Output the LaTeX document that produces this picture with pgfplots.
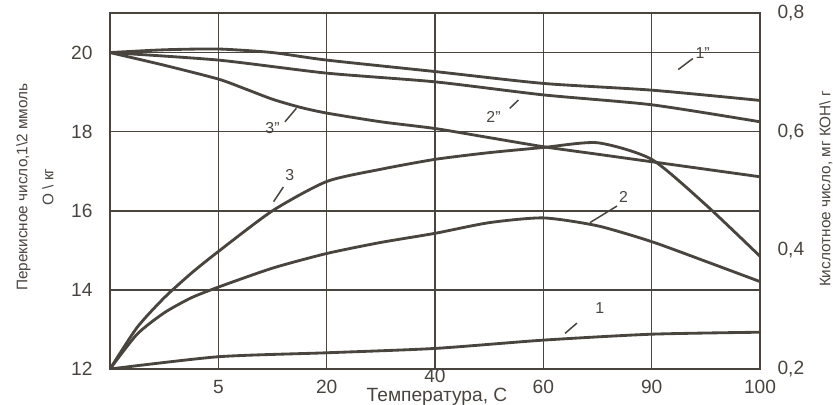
\documentclass[border=0pt]{standalone}
\usepackage{fontspec}
\setmainfont{Liberation Sans}
\usepackage{pgfplots}
\pgfplotsset{compat=1.18}
\definecolor{ink}{HTML}{4A443E}
\begin{document}
\begin{tikzpicture}[x=1pt,y=1pt]
\useasboundingbox (-66,-21.6) rectangle (433.8,221.4);
\begin{axis}[
  at={(0,0)}, anchor=south west,
  scale only axis, width=390pt, height=213.6pt,
  xmin=0, xmax=6, ymin=12, ymax=21,
  xtick={0,1,2,4,5,6}, xticklabels={,5,20,60,90,100},
  extra x ticks={3}, extra x tick labels={40},
  extra x tick style={grid=major, xticklabel style={yshift=6.5pt}},
  ytick={12,14,16,18,20},
  grid=major, grid style={ink, line width=0.9pt},
  axis line style={ink, line width=1.6pt},
  major tick length=0pt,
  tick style={draw=none},
  /pgf/number format/assume math mode=true,
  every tick label/.style={font=\fontsize{11.5}{13}\selectfont, text=ink},
  yticklabel style={xshift=-7pt},
  xticklabel style={yshift=-3pt},
]
\addplot[ink, line width=1.7pt, smooth, tension=0.4] coordinates {
 (0,12) (1,12.31) (2,12.41) (3,12.52) (4,12.73) (5,12.88) (6,12.93)};
\addplot[ink, line width=1.7pt, smooth, tension=0.4] coordinates {
 (0,12) (0.25,12.88) (0.5,13.42) (0.75,13.8) (1,14.07) (1.5,14.55) (2,14.92) (2.5,15.2) (3,15.43) (3.5,15.7) (4,15.82) (4.5,15.62) (5,15.22) (5.5,14.72) (6,14.21)};
\addplot[ink, line width=1.7pt, smooth, tension=0.4] coordinates {
 (0,12) (0.25,13.05) (0.5,13.8) (0.75,14.42) (1,14.97) (1.5,16.0) (2,16.74) (2.5,17.05) (3,17.3) (3.5,17.47) (4,17.6) (4.5,17.72) (5,17.3) (5.5,16.15) (6,14.85)};
\addplot[ink, line width=1.7pt, smooth, tension=0.4] coordinates {
 (0,20) (0.5,19.68) (1,19.33) (1.25,19.08) (1.5,18.82) (1.75,18.62) (2,18.47) (2.5,18.25) (3,18.08) (3.5,17.85) (4,17.62) (4.5,17.43) (5,17.24) (5.5,17.05) (6,16.86)};
\addplot[ink, line width=1.7pt, smooth, tension=0.4] coordinates {
 (0,20) (0.5,20.07) (1,20.09) (1.5,20.0) (2,19.81) (3,19.52) (4,19.22) (5,19.05) (6,18.79)};
\addplot[ink, line width=1.7pt, smooth, tension=0.4] coordinates {
 (0,20) (1,19.81) (2,19.48) (3,19.26) (4,18.93) (5,18.68) (6,18.25)};
\begin{scope}[every node/.style={font=\fontsize{9.5}{11}\selectfont, text=ink, inner sep=0pt}]
\node at (axis cs:5.47,20.0) {1\symbol{34}};
\draw[ink, line width=0.9pt] (axis cs:5.245,19.57) -- (axis cs:5.38,19.85);
\node at (axis cs:3.54,18.38) {2\symbol{34}};
\draw[ink, line width=0.9pt] (axis cs:3.69,18.59) -- (axis cs:3.77,18.8);
\node at (axis cs:1.5,18.09) {3\symbol{34}};
\draw[ink, line width=0.9pt] (axis cs:1.615,18.25) -- (axis cs:1.72,18.59);
\node at (axis cs:1.66,16.9) {3};
\draw[ink, line width=0.9pt] (axis cs:1.51,16.23) -- (axis cs:1.6,16.6);
\node at (axis cs:4.74,16.35) {2};
\draw[ink, line width=0.9pt] (axis cs:4.43,15.70) -- (axis cs:4.68,16.12);
\node at (axis cs:4.52,13.55) {1};
\draw[ink, line width=0.9pt] (axis cs:4.2,12.9) -- (axis cs:4.31,13.16);
\end{scope}
\end{axis}
\begin{axis}[
  at={(0,0)}, anchor=south west,
  scale only axis, width=390pt, height=213.6pt,
  xmin=0, xmax=6, ymin=0.2, ymax=0.8,
  axis x line=none, axis y line*=right,
  axis line style={ink, line width=1.6pt},
  ytick={0.2,0.4,0.6,0.8},
  tick style={draw=none}, major tick length=0pt,
  /pgf/number format/.cd, use comma, fixed, fixed zerofill, precision=1, assume math mode=true,
  /pgfplots/.cd,
  every tick label/.style={font=\fontsize{11.5}{13}\selectfont, text=ink},
  yticklabel style={xshift=7pt},
]
\end{axis}
\node[rotate=90, align=center, text=ink, font=\fontsize{9.2}{15.6}\selectfont] at (-45,109.2)
 {Перекисное число,1\textbackslash 2 ммоль\\О \textbackslash\ кг};
\node[rotate=90, text=ink, font=\fontsize{9.2}{11}\selectfont] at (429.5,108)
 {Кислотное число, мг КОН\textbackslash\ г};
\node[anchor=base, text=ink, font=\fontsize{11.5}{14}\selectfont] at (196.2,-19.8) {Температура, С};
\end{tikzpicture}
\end{document}
